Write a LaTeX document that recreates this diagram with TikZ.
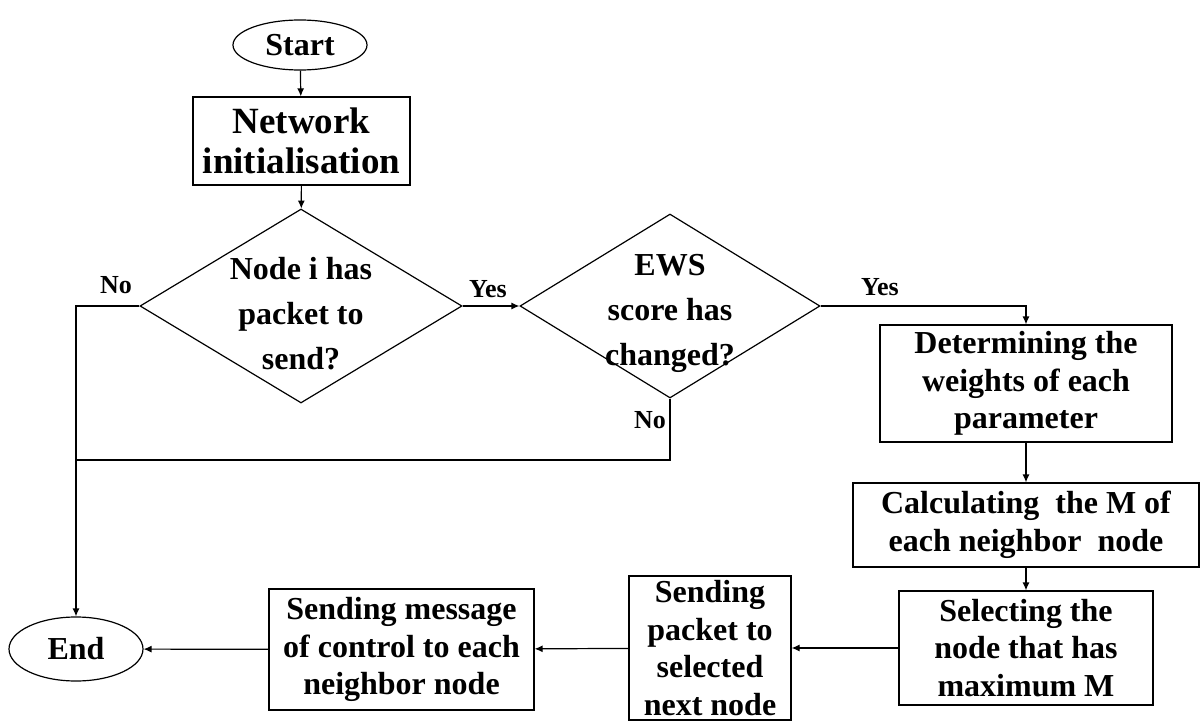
\documentclass[tikz,border=0pt]{standalone}
\usepackage{fontspec}
\setmainfont{Liberation Serif}
\usepackage{tikz}
\usetikzlibrary{shapes,arrows,arrows.meta,shapes.geometric}

\begin{document}
\begin{tikzpicture}[x=0.5pt,y=-0.5pt,line width=0.6pt,
                   every node/.style={font=\bfseries\fontsize{16}{18.75}\selectfont,align=center,inner sep=0pt},
                   term/.style={draw,ellipse,minimum width=67pt,minimum height=25pt},
                   proc/.style={draw,rectangle},
                   dec/.style={draw,diamond,inner sep=-8pt,font=\bfseries\fontsize{16}{22.5}\selectfont},
                   lbl/.style={font=\bfseries\fontsize{13}{15}\selectfont},
                   flow/.style={-{Latex[length=4pt,width=3.5pt]}}]
\useasboundingbox (0,0) rectangle (1200,722);
\node[term] (start) at (300,45) {Start};
\node[proc,minimum width=108.5pt,minimum height=44pt,font=\bfseries\fontsize{18.5}{20}\selectfont] (init) at (301.5,141) {Network\\initialisation};
\node[dec,aspect=1.66,minimum width=161pt,minimum height=97pt] (node) at (301,306) {\mbox{}\\[-4pt]Node i has\\packet to\\send?};
\node[dec,aspect=1.63,minimum width=150pt,minimum height=92pt] (ews) at (670,306) {\mbox{}\\[-4pt]EWS\\score has\\changed?};
\node[proc,minimum width=146pt,minimum height=58.5pt] (weights) at (1026,383.5) {Determining the\\weights of each\\parameter};
\node[proc,minimum width=173pt,minimum height=42pt] (calc) at (1026,525) {Calculating\enspace the M of\\each neighbor\enspace node};
\node[proc,minimum width=127pt,minimum height=57pt] (select) at (1026,648) {Selecting the\\node that has\\maximum M};
\node[proc,minimum width=81pt,minimum height=72pt] (send) at (710,648) {Sending\\packet to\\selected\\next node};
\node[proc,minimum width=132.5pt,minimum height=60.5pt] (msg) at (401.5,649.5) {Sending message\\of control to each\\neighbor node};
\node[term,minimum height=32pt] (end) at (76,649) {End};
\coordinate (merge) at (76,460);
% labels
\node[lbl] (yes1) at (488,289) {Yes};
\node[lbl] (yes2) at (880,287) {Yes};
\node[lbl] (no1) at (116,285) {No};
\node[lbl] (no2) at (650,420) {No};
% connectors
\draw[flow] (start) -- (init);
\draw[flow] (init) -- (node);
\draw[flow] (node.east) -- (ews.west);
\draw[flow] (ews.east) -| (weights.north);
\draw[flow] (weights) -- (calc);
\draw[flow] (calc) -- (select);
\draw[flow] (select) -- (send);
\draw[flow] (send) -- (msg);
\draw[flow] (msg) -- (end);
\draw[flow] (node.west) -| (end.north);
\draw (ews.south) |- (merge);
\end{tikzpicture}
\end{document}
